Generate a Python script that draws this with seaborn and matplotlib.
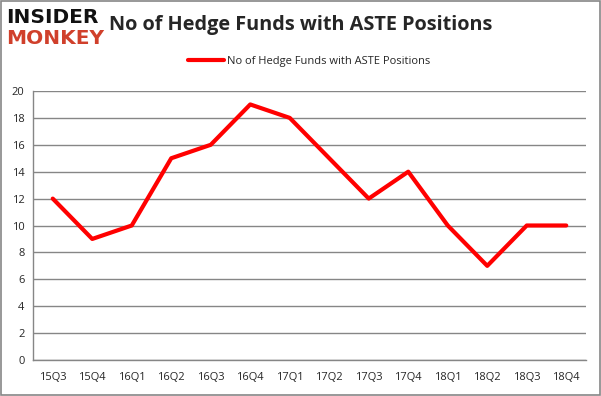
import matplotlib
matplotlib.use("Agg")
import matplotlib.pyplot as plt
import seaborn as sns
import pandas as pd
import numpy as np
from matplotlib.patches import Rectangle

quarters = ["15Q3", "15Q4", "16Q1", "16Q2", "16Q3", "16Q4", "17Q1",
            "17Q2", "17Q3", "17Q4", "18Q1", "18Q2", "18Q3", "18Q4"]
funds = [12, 9, 10, 15, 16, 19, 18, 15, 12, 14, 10, 7, 10, 10]
yticks = [0, 2, 4, 6, 8, 10, 12, 14, 16, 18, 20]

series_name = "No of Hedge Funds with ASTE Positions"
df = pd.DataFrame({"quarter": quarters, "funds": funds})
df["pos"] = np.arange(len(quarters))

sns.set_style("white")
plt.rcParams["font.family"] = ["Open Sans", "DejaVu Sans"]

fig = plt.figure(figsize=(6.01, 3.96), dpi=100)
ax = fig.add_axes([33 / 601, 1 - 360 / 396, (586 - 33) / 601, (360 - 91) / 396])

sns.lineplot(data=df, x="pos", y="funds", color="#ff0000", linewidth=3,
             label=series_name, ax=ax, sort=False)

ax.set_xlim(-0.5, len(quarters) - 0.5)
ax.set_ylim(0, 20)
ax.set_yticks(yticks)
ax.set_xticks(df["pos"])
ax.set_xticklabels(quarters, fontsize=8)
ax.set_xticks(np.arange(-0.5, len(quarters), 1), minor=True)
ax.tick_params(axis="x", which="major", length=0, pad=9)
ax.tick_params(axis="x", which="minor", length=4, color="#868686", width=1)
ax.tick_params(axis="y", length=0, labelsize=8, pad=6)
ax.grid(axis="y", color="#868686", linewidth=1)
ax.set_xlabel("")
ax.set_ylabel("")
for side in ["top", "right"]:
    ax.spines[side].set_visible(False)
for side in ["left", "bottom"]:
    ax.spines[side].set_color("#868686")
    ax.spines[side].set_linewidth(1)

ax.legend(loc="center", bbox_to_anchor=(0.5, 1.11), frameon=False,
          fontsize=8, handlelength=3.2, handletextpad=0.3)

fig.text(0.5, 0.937, "No of Hedge Funds with ASTE Positions",
         ha="center", va="center", fontsize=14.3, fontweight="bold")
fig.text(0.010, 0.955, "INSIDER", ha="left", va="center", fontsize=14.5,
         fontweight="heavy", color="#111111", family=["DejaVu Sans"])
fig.text(0.010, 0.903, "MONKEY", ha="left", va="center", fontsize=14.5,
         fontweight="heavy", color="#d0402b", family=["DejaVu Sans"])

fig.add_artist(Rectangle((0.001, 0.002), 0.997, 0.995, transform=fig.transFigure,
                         fill=False, edgecolor="#868686", linewidth=1.2))

fig.savefig("out.png", dpi=100)
